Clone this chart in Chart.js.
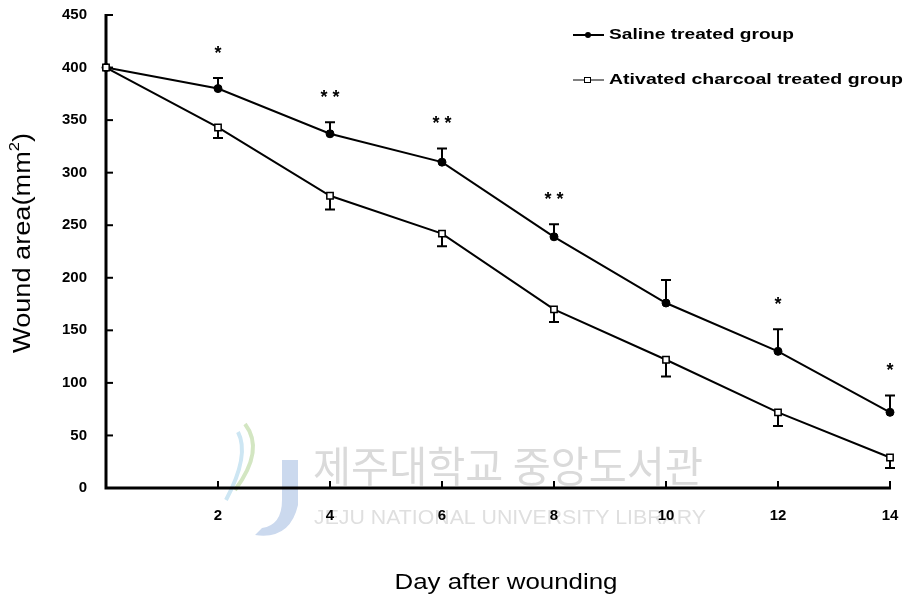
<!DOCTYPE html>
<html>
<head>
<meta charset="utf-8">
<script src="https://cdn.jsdelivr.net/npm/chart.js@4"></script>
<style>
  html, body { margin: 0; padding: 0; background: #fff; }
  #wrap { width: 907px; height: 602px; position: relative; }
</style>
</head>
<body>
<div id="wrap"><canvas id="c" width="907" height="602"></canvas></div>
<script>
// ---- data ----
const days = [0, 2, 4, 6, 8, 10, 12, 14];
const xTickValues = [2, 4, 6, 8, 10, 12, 14];
const yTickValues = [0, 50, 100, 150, 200, 250, 300, 350, 400, 450];
const salineMean = [400, 380, 337, 310, 239, 176, 130, 72];
const salineErr  = [0, 10, 11, 13, 12, 22, 21, 16];
const charcoalMean = [400, 343, 278, 242, 170, 122, 72, 29];
const charcoalErr  = [0, 10, 13, 12, 12, 16, 13, 10];
const salineStars = ['', '*', '**', '**', '**', '', '*', '*'];
const salineLabel = 'Saline treated group';
const charcoalLabel = 'Ativated charcoal treated group';
const xTitle = 'Day after wounding';
const yTitleMain = 'Wound area(mm';
const yTitleSup = '2';
const yTitleEnd = ')';
const watermarkKo = '제주대학교 중앙도서관';
const watermarkEn = 'JEJU NATIONAL UNIVERSITY LIBRARY';

const toPts = (ys) => days.map((d, i) => ({ x: d, y: ys[i] }));

// draw text stretched horizontally to a target width
function fitText(ctx, text, x, y, targetW, align) {
  const w = ctx.measureText(text).width;
  const k = targetW / w;
  ctx.save();
  ctx.textAlign = 'left';
  let sx = x;
  if (align === 'center') sx = x - targetW / 2;
  ctx.translate(sx, y);
  ctx.scale(k, 1);
  ctx.fillText(text, 0, 0);
  ctx.restore();
}

const decor = {
  id: 'decor',
  beforeDraw(chart) {
    const ctx = chart.ctx;
    // watermark (behind everything)
    ctx.save();
    ctx.fillStyle = '#dadada';
    ctx.font = '42px "Noto Sans CJK KR", sans-serif';
    ctx.textBaseline = 'middle';
    fitText(ctx, watermarkKo, 313, 466, 390, 'left');
    ctx.font = '21px "Liberation Sans", Arial, sans-serif';
    ctx.fillStyle = '#dfdfdf';
    fitText(ctx, watermarkEn, 314, 518, 392, 'left');
    // logo approximation
    ctx.fillStyle = '#cbd9ee';
    ctx.beginPath();
    ctx.moveTo(282, 460); ctx.lineTo(298, 460); ctx.lineTo(298, 505);
    ctx.quadraticCurveTo(290, 540, 255, 535); ctx.lineTo(262, 528);
    ctx.quadraticCurveTo(282, 525, 282, 500); ctx.closePath(); ctx.fill();
    ctx.strokeStyle = '#d3e6c2';
    ctx.lineWidth = 4;
    ctx.beginPath();
    ctx.moveTo(245, 424); ctx.quadraticCurveTo(265, 450, 235, 490);
    ctx.stroke();
    ctx.strokeStyle = '#cde6f3';
    ctx.beginPath();
    ctx.moveTo(238, 432); ctx.quadraticCurveTo(250, 455, 226, 500);
    ctx.stroke();
    ctx.restore();
  },
  beforeDatasetsDraw(chart) {
    const ctx = chart.ctx;
    const xs = chart.scales.x, ys = chart.scales.y;
    // axes
    ctx.save();
    ctx.strokeStyle = '#000';
    ctx.lineWidth = 3;
    const x0 = xs.left, y0 = ys.bottom;
    ctx.beginPath();
    ctx.moveTo(x0, ys.top - 1);
    ctx.lineTo(x0, y0);
    ctx.lineTo(xs.right + 1, y0);
    ctx.stroke();
    ctx.lineWidth = 2;
    yTickValues.forEach(v => {
      const py = ys.getPixelForValue(v);
      ctx.beginPath(); ctx.moveTo(x0, py); ctx.lineTo(x0 + 7, py); ctx.stroke();
    });
    xTickValues.forEach(v => {
      const px = xs.getPixelForValue(v);
      ctx.beginPath(); ctx.moveTo(px, y0); ctx.lineTo(px, y0 - 7); ctx.stroke();
    });
    ctx.restore();

    // error bars
    ctx.save();
    ctx.strokeStyle = '#000';
    ctx.lineWidth = 2;
    const cap = 5;
    days.forEach((d, i) => {
      const px = xs.getPixelForValue(d);
      if (salineErr[i] > 0) {
        const a = ys.getPixelForValue(salineMean[i]);
        const b = ys.getPixelForValue(salineMean[i] + salineErr[i]);
        ctx.beginPath(); ctx.moveTo(px, a); ctx.lineTo(px, b);
        ctx.moveTo(px - cap, b); ctx.lineTo(px + cap, b); ctx.stroke();
      }
      if (charcoalErr[i] > 0) {
        const a = ys.getPixelForValue(charcoalMean[i]);
        const b = ys.getPixelForValue(charcoalMean[i] - charcoalErr[i]);
        ctx.beginPath(); ctx.moveTo(px, a); ctx.lineTo(px, b);
        ctx.moveTo(px - cap, b); ctx.lineTo(px + cap, b); ctx.stroke();
      }
    });
    // significance stars
    ctx.fillStyle = '#000';
    ctx.font = 'bold 18px "Liberation Sans", Arial, sans-serif';
    ctx.textAlign = 'center';
    ctx.textBaseline = 'middle';
    days.forEach((d, i) => {
      if (!salineStars[i]) return;
      const px = xs.getPixelForValue(d);
      const top = ys.getPixelForValue(salineMean[i] + salineErr[i]);
      ctx.fillText(salineStars[i].split('').join(' '), px, top - 24);
    });
    ctx.restore();
  },
  afterDraw(chart) {
    const ctx = chart.ctx;
    ctx.save();
    ctx.fillStyle = '#000';
    ctx.textBaseline = 'middle';
    // x title
    ctx.font = '22px "Liberation Sans", Arial, sans-serif';
    fitText(ctx, xTitle, 506, 583, 223, 'center');
    // y title (rotated, with superscript)
    ctx.save();
    ctx.translate(24, 243);
    ctx.rotate(-Math.PI / 2);
    ctx.font = '23px "Liberation Sans", Arial, sans-serif';
    const wMain = ctx.measureText(yTitleMain).width;
    const wEnd = ctx.measureText(yTitleEnd).width;
    ctx.font = '14px "Liberation Sans", Arial, sans-serif';
    const wSup = ctx.measureText(yTitleSup).width;
    const total = wMain + wSup + wEnd;
    const k = 220 / total;
    ctx.scale(k, 1);
    let cx = -total / 2;
    ctx.textAlign = 'left';
    ctx.font = '23px "Liberation Sans", Arial, sans-serif';
    ctx.fillText(yTitleMain, cx, 0); cx += wMain;
    ctx.font = '14px "Liberation Sans", Arial, sans-serif';
    ctx.fillText(yTitleSup, cx, -9); cx += wSup;
    ctx.font = '23px "Liberation Sans", Arial, sans-serif';
    ctx.fillText(yTitleEnd, cx, 0);
    ctx.restore();

    // legend
    ctx.strokeStyle = '#000';
    ctx.font = 'bold 15px "Liberation Sans", Arial, sans-serif';
    const lx = 573, lw = 31;
    ctx.lineWidth = 2;
    ctx.beginPath(); ctx.moveTo(lx, 35); ctx.lineTo(lx + lw, 35); ctx.stroke();
    ctx.beginPath(); ctx.arc(lx + 15, 35, 3, 0, Math.PI * 2); ctx.fill();
    fitText(ctx, salineLabel, 609, 35, 185, 'left');
    ctx.lineWidth = 1;
    ctx.beginPath(); ctx.moveTo(lx, 80); ctx.lineTo(lx + lw, 80); ctx.stroke();
    ctx.fillStyle = '#fff';
    ctx.fillRect(lx + 11, 77, 7, 6);
    ctx.strokeRect(lx + 11.5, 77.5, 6, 5);
    ctx.fillStyle = '#000';
    fitText(ctx, charcoalLabel, 609, 80, 294, 'left');
    ctx.restore();
  }
};

const tickFontCfg = { family: '"Liberation Sans", Arial, sans-serif', size: 15, weight: 'bold' };

new Chart(document.getElementById('c'), {
  type: 'line',
  data: {
    datasets: [
      {
        label: salineLabel,
        data: toPts(salineMean),
        order: 2,
        borderColor: '#000',
        backgroundColor: '#000',
        borderWidth: 2,
        pointStyle: 'circle',
        pointRadius: 4,
        pointBorderWidth: 1,
        pointBackgroundColor: '#000',
        tension: 0,
        clip: false
      },
      {
        label: charcoalLabel,
        data: toPts(charcoalMean),
        order: 1,
        borderColor: '#000',
        backgroundColor: '#fff',
        borderWidth: 2,
        pointStyle: 'rect',
        pointRadius: 4.5,
        pointBorderWidth: 1.5,
        pointBackgroundColor: '#fff',
        tension: 0,
        clip: false
      }
    ]
  },
  options: {
    responsive: false,
    animation: false,
    layout: { padding: { top: 15, right: 17, left: 0, bottom: 0 } },
    plugins: { legend: { display: false }, tooltip: { enabled: false } },
    scales: {
      x: {
        type: 'linear',
        min: 0, max: 14,
        afterBuildTicks: (s) => { s.ticks = xTickValues.map(v => ({ value: v })); },
        afterFit: (s) => { s.height = 114; s.paddingLeft = 0; s.paddingRight = 0; },
        grid: { display: false, drawTicks: false },
        border: { display: false },
        ticks: { font: tickFontCfg, color: '#000', padding: 19, maxRotation: 0 }
      },
      y: {
        min: 0, max: 450,
        afterBuildTicks: (s) => { s.ticks = yTickValues.map(v => ({ value: v })); },
        afterFit: (s) => { s.width = 106; s.paddingTop = 0; s.paddingBottom = 0; },
        grid: { display: false, drawTicks: false },
        border: { display: false },
        ticks: { font: tickFontCfg, color: '#000', padding: 19 }
      }
    }
  },
  plugins: [decor]
});
</script>
</body>
</html>
